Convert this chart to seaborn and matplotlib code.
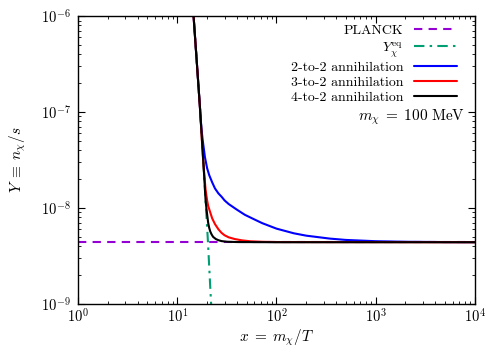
import numpy as np
import matplotlib
matplotlib.use("Agg")
import matplotlib.pyplot as plt
import seaborn as sns

# values (x = m/T, Y = n/s)
planck_x = [1.0, 1.0e4]
planck_y = [4.4e-9, 4.4e-9]

eq_x = [13.5, 14.6, 16.0, 17.0, 18.3, 19.3, 20.4, 21.5, 22.2]
eq_y = [3.0e-6, 1.0e-6, 2.6e-7, 1.05e-7, 3.1e-8, 1.2e-8, 4.4e-9, 1.5e-9, 8.0e-10]

ann22_x = [13.5, 14.6, 16.0, 17.0, 17.3, 17.6, 18.0, 18.5, 19.0, 20.0, 21.0, 22.5, 24.0,
           26.0, 28.0, 30.0, 33.0, 40.0, 48.0, 60.0, 72.0, 100.0, 150.0, 200.0, 346.0,
           500.0, 1000.0, 2000.0, 5000.0, 1.0e4]
ann22_y = [3.0e-6, 1.0e-6, 2.6e-7, 1.05e-7, 8.0e-8, 6.5e-8, 5.2e-8, 4.2e-8, 3.4e-8, 2.6e-8,
           2.2e-8, 1.85e-8, 1.6e-8, 1.42e-8, 1.31e-8, 1.2e-8, 1.1e-8, 9.6e-9, 8.5e-9,
           7.6e-9, 6.95e-9, 6.1e-9, 5.45e-9, 5.15e-9, 4.8e-9, 4.65e-9, 4.51e-9, 4.45e-9,
           4.42e-9, 4.41e-9]

ann32_x = [13.5, 14.6, 16.0, 17.0, 18.0, 18.5, 19.3, 20.0, 20.5, 21.5, 22.5, 24.0, 26.0,
           28.0, 30.0, 33.0, 38.0, 45.0, 55.0, 70.0, 100.0, 1.0e4]
ann32_y = [3.0e-6, 1.0e-6, 2.6e-7, 1.05e-7, 3.8e-8, 2.6e-8, 1.55e-8, 1.2e-8, 1.05e-8, 9.0e-9,
           7.8e-9, 6.8e-9, 6.0e-9, 5.5e-9, 5.2e-9, 4.95e-9, 4.75e-9, 4.6e-9, 4.5e-9, 4.45e-9,
           4.42e-9, 4.4e-9]

ann42_x = [13.5, 14.6, 16.0, 17.0, 18.3, 19.3, 19.7, 20.0, 20.5, 21.0, 21.5, 22.2, 23.0,
           24.5, 26.0, 28.0, 32.0, 40.0, 100.0, 1.0e4]
ann42_y = [3.0e-6, 1.0e-6, 2.6e-7, 1.05e-7, 3.1e-8, 1.2e-8, 9.8e-9, 8.6e-9, 7.0e-9, 6.2e-9,
           5.7e-9, 5.3e-9, 5.0e-9, 4.75e-9, 4.62e-9, 4.52e-9, 4.45e-9, 4.42e-9, 4.4e-9, 4.4e-9]

sns.set_theme(style="ticks")
plt.rcParams["font.family"] = ["cmr10", "DejaVu Serif"]
plt.rcParams["mathtext.fontset"] = "cm"
plt.rcParams["axes.formatter.use_mathtext"] = True
plt.rcParams["axes.unicode_minus"] = False
plt.rcParams["text.color"] = "black"
plt.rcParams["axes.labelcolor"] = "black"
plt.rcParams["xtick.color"] = "black"
plt.rcParams["ytick.color"] = "black"

fig = plt.figure(figsize=(4.88, 3.51), dpi=100)
ax = fig.add_axes([0.16, 0.134, 0.813, 0.820])

sns.lineplot(x=planck_x, y=planck_y, ax=ax, color="#9400D3", lw=1.5,
             linestyle=(0, (4, 3)), label="PLANCK")
sns.lineplot(x=eq_x, y=eq_y, ax=ax, color="#009E73", lw=1.5,
             linestyle=(0, (5, 2.5, 1.2, 2.5)), label=r"$Y_\chi^{\mathrm{eq}}$")
sns.lineplot(x=ann22_x, y=ann22_y, ax=ax, color="#0000FF", lw=1.5, label="2-to-2 annihilation")
sns.lineplot(x=ann32_x, y=ann32_y, ax=ax, color="#FF0000", lw=1.5, label="3-to-2 annihilation")
sns.lineplot(x=ann42_x, y=ann42_y, ax=ax, color="black", lw=1.5, label="4-to-2 annihilation")

ax.set_xscale("log")
ax.set_yscale("log")
ax.set_xlim(1, 1e4)
ax.set_ylim(1e-9, 1e-6)
ax.set_xlabel(r"$x\;=\;m_\chi/T$", fontsize=11)
ax.set_ylabel(r"$Y\;\equiv\;n_\chi/s$", fontsize=11)
ax.xaxis.set_label_coords(0.5, -0.082)
ax.yaxis.set_label_coords(-0.125, 0.5)

ax.tick_params(which="both", direction="in", top=True, right=True, labelsize=10.5)
ax.tick_params(which="major", length=5, width=0.8)
ax.tick_params(axis="x", which="major", pad=3)
ax.tick_params(axis="y", which="major", pad=5)
ax.tick_params(which="minor", length=2.5, width=0.6)
for sp in ax.spines.values():
    sp.set_linewidth(1.0)
    sp.set_color("black")

leg = ax.legend(loc="upper right", bbox_to_anchor=(0.955, 0.971), frameon=False,
                markerfirst=False, fontsize=10, handlelength=3.1, handletextpad=0.75,
                labelspacing=0.17, borderpad=0, borderaxespad=0)
ax.text(0.975, 0.649, r"$m_\chi\;=\;100\ \mathrm{MeV}$", transform=ax.transAxes,
        ha="right", va="center", fontsize=11)

fig.savefig("out.png", dpi=100)
